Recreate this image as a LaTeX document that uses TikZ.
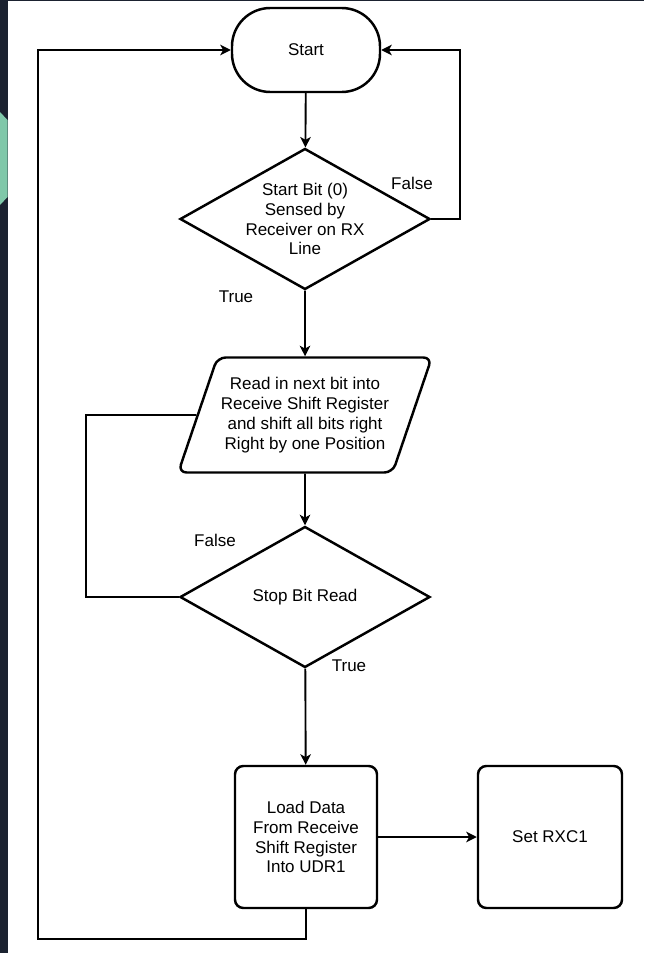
\documentclass[tikz,border=0pt]{standalone}
\usepackage{fontspec}
\setmainfont{Liberation Sans}
\usepackage{tikz}
\usetikzlibrary{shapes.geometric,arrows.meta}
\newcommand{\pxsize}{0.03cm}
\definecolor{slidebg}{HTML}{1B2230}
\definecolor{slidegreen}{HTML}{7FC8A9}

\begin{document}
\begin{tikzpicture}[x=\pxsize,y=-\pxsize,
	every node/.style={font=\fontsize{14.5pt}{17pt}\selectfont, align=center},
	shapeline/.style={draw=black, line width=2.1pt},
	terminal/.style={shapeline, rectangle, rounded corners=1.15cm, minimum width=4.44cm, minimum height=2.52cm},
	decision/.style={shapeline, diamond, aspect=1.76, inner sep=0pt, minimum width=7.5cm, minimum height=4.23cm},
	iobox/.style={shapeline, trapezium, trapezium stretches=true, trapezium left angle=64, trapezium right angle=116, rounded corners=0.25cm, inner sep=1pt, minimum width=7.62cm, minimum height=3.45cm},
	process/.style={shapeline, rectangle, rounded corners=0.25cm, minimum width=4.26cm, minimum height=4.26cm},
	flow/.style={line width=1.6pt, -{Stealth[length=9pt,width=9pt,inset=2.5pt]}},
	plainflow/.style={line width=1.6pt},
	answer/.style={inner sep=0pt}]
	\useasboundingbox (0,0) rectangle (644,953);
	\fill[white] (0,0) rectangle (644,953);
	\fill[slidebg] (0,0) rectangle (8,953);
	\fill[slidebg] (0,0) rectangle (644,1.5);
	\fill[slidegreen] (0,112) -- (7.5,120) -- (7.5,197) -- (0,205) -- cycle;

	\node[terminal] (start) at (306,50) {Start};
	\node[decision] (startbit) at (305,219) {Start Bit (0)\\Sensed by\\Receiver on RX\\Line};
	\node[iobox] (readbit) at (305,415) {Read in next bit into\\Receive Shift Register\\and shift all bits right\\Right by one Position};
	\node[decision] (stopbit) at (305,597) {Stop Bit Read};
	\node[process] (loaddata) at (306,837) {Load Data\\From Receive\\Shift Register\\Into UDR1};
	\node[process, minimum width=4.32cm] (setrxc) at (550,837) {Set RXC1};

	\node[answer] (startfalse) at (412,183) {False};
	\node[answer] (starttrue) at (236,297) {True};
	\node[answer] (stopfalse) at (215,540) {False};
	\node[answer] (stoptrue) at (349,666) {True};

	\coordinate (rightloop) at (460,219);
	\coordinate (midloop) at (86,415);
	\coordinate (bottomloop) at (306,939);
	\coordinate (leftloop) at (38,939);

	\draw[flow] (start) -- (startbit);
	\draw[flow] (startbit) -- (readbit);
	\draw[flow] (readbit) -- (stopbit);
	\draw[flow] (stopbit) -- (loaddata);
	\draw[flow] (loaddata) -- (setrxc);
	\draw[flow] (startbit.east) -- (rightloop) |- (start.east);
	\draw[plainflow] (readbit.west) -- (midloop) |- (stopbit.west);
	\draw[flow] (loaddata.south) -- (bottomloop) -- (leftloop) |- (start.west);
\end{tikzpicture}
\end{document}
